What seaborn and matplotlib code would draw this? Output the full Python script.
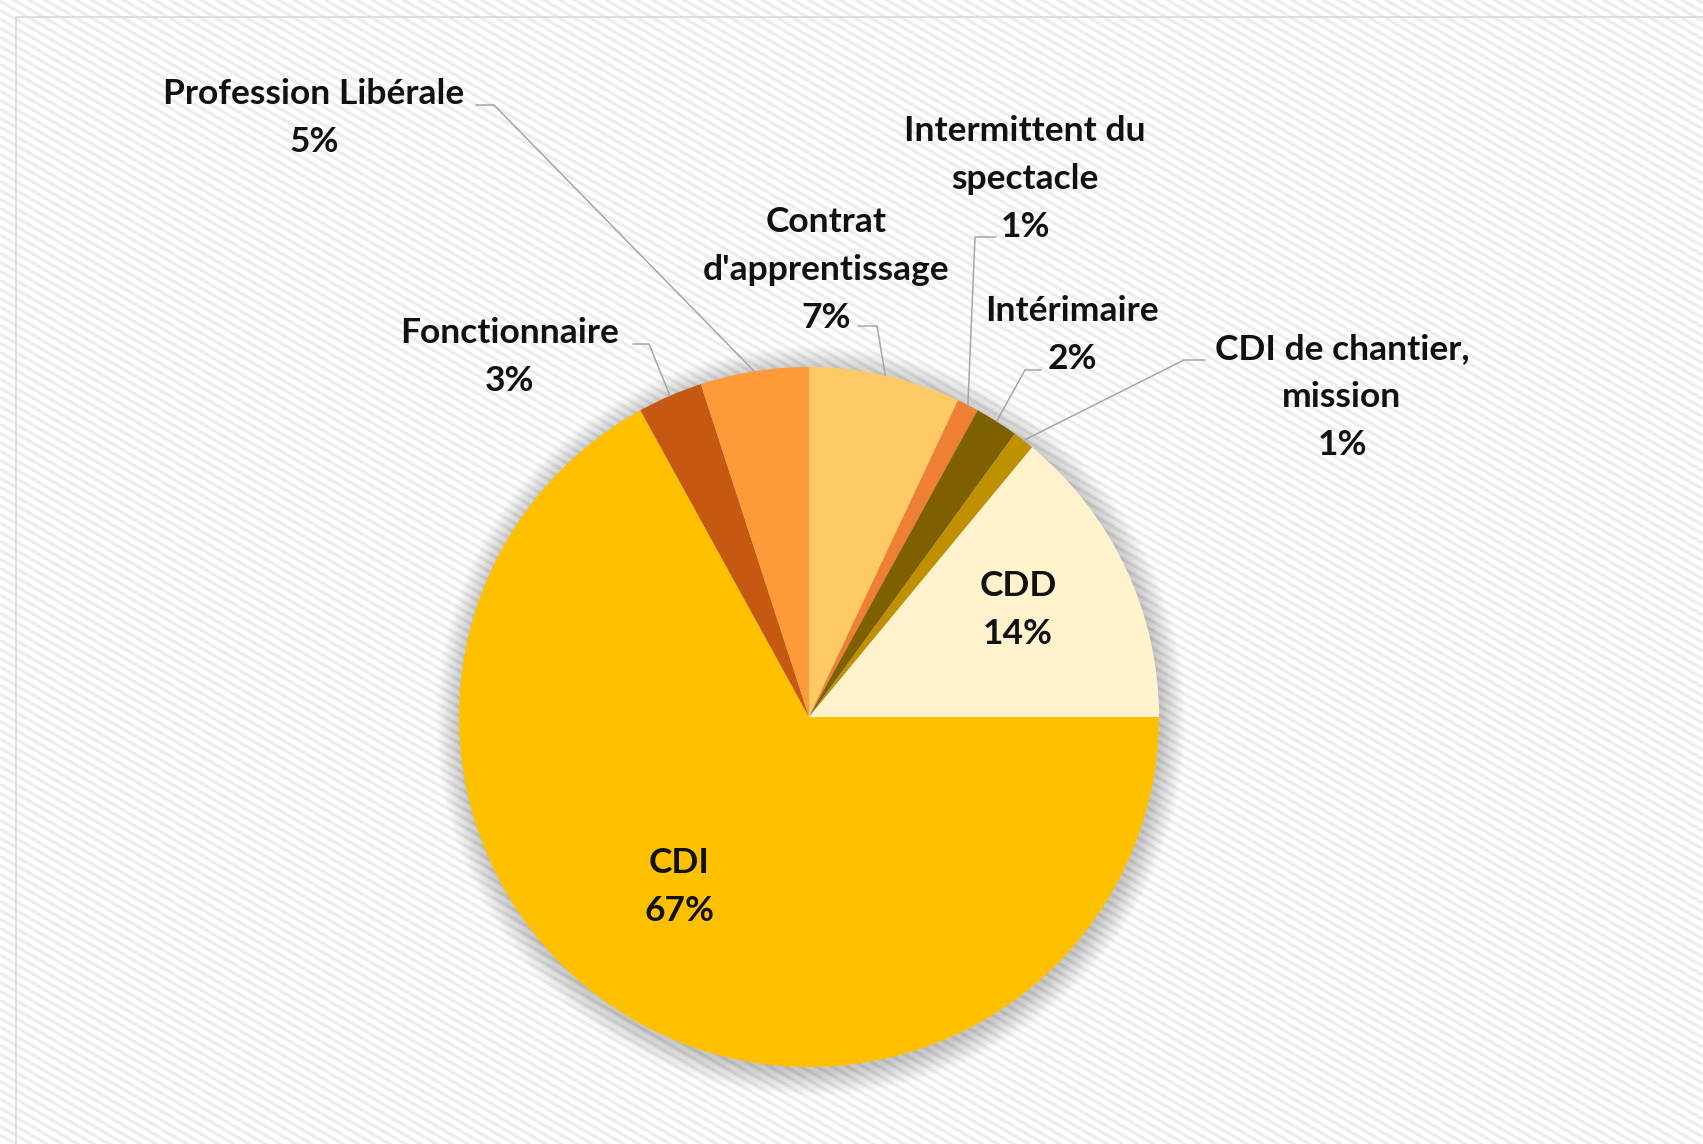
import matplotlib
matplotlib.use("Agg")
import matplotlib.pyplot as plt
import numpy as np
import seaborn as sns
from matplotlib.collections import LineCollection
from matplotlib.patches import Circle, Rectangle

# data
categories = ["Contrat\nd'apprentissage", "Intermittent du\nspectacle", "Intérimaire",
              "CDI de chantier,\nmission", "CDD", "CDI", "Fonctionnaire", "Profession Libérale"]
shares = [7, 1, 2, 1, 14, 67, 3, 5]
slice_colors = ["#FFCA66", "#EF7F32", "#7F6000", "#BF9000",
                "#FFF2CC", "#FFC000", "#C65911", "#FF9A38"]

# layout (pixel coords, origin top-left)
W, H = 1703, 1144
CX, CY, R = 809, 717, 350
label_pos = [(826, 270), (1025, 179), (1072, 335), (1342, 397),
             (1018, 610), (679, 887), (510, 357), (314, 118)]
# leader: (start x, elbow x, y) or None for inside labels
leaders = [(858, 877, 326), (996, 975, 237), (1041, 1025, 370), (1205, 1184, 360),
           None, None, (633, 649, 344), (476, 494, 105)]

sns.set_theme(style="white")
plt.rcParams["font.family"] = ["Lato", "DejaVu Sans"]

fig = plt.figure(figsize=(W / 100, H / 100), dpi=100)
ax = fig.add_axes([0, 0, 1, 1])

# striped chart area
area = Rectangle((16, -10), W, H - 17 + 10, facecolor="white", linewidth=0, zorder=0)
ax.add_patch(area)
slope = np.tan(np.deg2rad(30))
segs = [[(0, y0), (W, y0 - slope * W)] for y0 in np.arange(0, H + slope * W + 20, 9)]
stripes = LineCollection(segs, colors="#EDEDED", linewidths=2.4, zorder=0.5)
stripes.set_clip_path(area)
ax.add_collection(stripes)
ax.add_patch(Rectangle((16, -10), W, H - 17 + 10, facecolor="none",
                       edgecolor="#D9D9D9", linewidth=1.2, zorder=1))

# soft shadow
for k in range(18):
    ax.add_patch(Circle((CX + 2, H - CY - 4), R + 1 + k * 1.4, color="#000000",
                        alpha=0.010, linewidth=0, zorder=2))

wedges, _ = ax.pie(shares, colors=slice_colors, startangle=90, counterclock=False,
                   center=(CX, H - CY), radius=R, wedgeprops=dict(linewidth=0),
                   frame=True)
for w in wedges:
    w.set_zorder(3)

for w, cat, v, pos, ld in zip(wedges, categories, shares, label_pos, leaders):
    ax.text(pos[0], H - pos[1], f"{cat}\n{v}%", ha="center", va="center",
            fontsize=25.5, fontweight="bold", color="#111111", linespacing=1.62, zorder=5)
    if ld is not None:
        ang = np.deg2rad((w.theta1 + w.theta2) / 2)
        ex, ey = CX + R * np.cos(ang), H - CY + R * np.sin(ang)
        ax.plot([ld[0], ld[1], ex], [H - ld[2], H - ld[2], ey],
                color="#A6A6A6", linewidth=1.1, zorder=4)

ax.set_xlim(0, W)
ax.set_ylim(0, H)
ax.set_aspect("auto")
ax.axis("off")

fig.savefig("out.png", dpi=100, facecolor="white")
